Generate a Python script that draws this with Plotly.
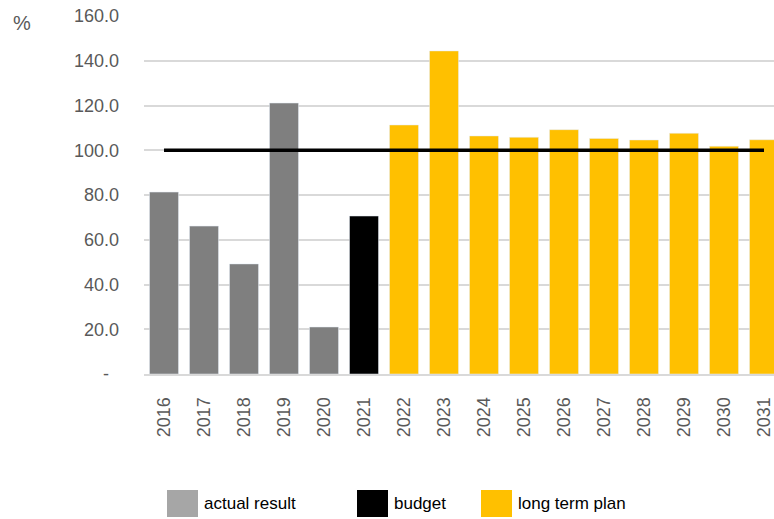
import plotly.graph_objects as go

# Categories and values
years = [str(y) for y in range(2016, 2032)]
actual_years = ["2016", "2017", "2018", "2019", "2020"]
actual_values = [81.3, 66.1, 49.2, 121.1, 21.0]
budget_years = ["2021"]
budget_values = [70.6]
plan_years = ["2022", "2023", "2024", "2025", "2026", "2027", "2028", "2029", "2030", "2031"]
plan_values = [111.3, 144.4, 106.4, 105.8, 109.2, 105.3, 104.6, 107.6, 101.8, 104.7]
target_values = [100.0] * len(years)

y_ticks = [0, 20, 40, 60, 80, 100, 120, 140, 160]
y_ticktext = ["-\u00a0\u00a0", "20.0", "40.0", "60.0", "80.0", "100.0", "120.0", "140.0", "160.0"]

GRAY = "#7f7f7f"
GRAY_KEY = "#a6a6a6"
BLACK = "#000000"
GOLD = "#ffc000"
TEXT = "#595959"
GRID = "#d9d9d9"

L, T, B, W, H = 144, 16, 145, 774, 519
plot_w = W - L
plot_h = H - T - B


def px(xp):
    return (xp - L) / plot_w


def py(yp):
    return (H - B - yp) / plot_h


fig = go.Figure()
fig.add_trace(go.Bar(x=actual_years, y=actual_values, marker_color=GRAY, name="actual result"))
fig.add_trace(go.Bar(x=budget_years, y=budget_values, marker_color=BLACK, name="budget"))
fig.add_trace(go.Bar(x=plan_years, y=plan_values, marker_color=GOLD, name="long term plan"))
fig.add_trace(go.Scatter(x=years, y=target_values, mode="lines",
                         line=dict(color=BLACK, width=3.5), name="target"))

# Legend drawn as swatches + labels below the axis
legend_items = [
    (167, GRAY_KEY, "actual result"),
    (357, BLACK, "budget"),
    (481, GOLD, "long term plan"),
]
shapes = []
annotations = []
for x0, color, label in legend_items:
    shapes.append(dict(type="rect", xref="paper", yref="paper",
                       x0=px(x0), x1=px(x0 + 31), y0=py(517), y1=py(490),
                       fillcolor=color, line=dict(width=0)))
    annotations.append(dict(xref="paper", yref="paper", x=px(x0 + 35), y=py(503),
                            text=label, showarrow=False, xanchor="left", yanchor="middle",
                            font=dict(family="Liberation Sans, Arial", size=17, color="#000000")))

annotations.append(dict(xref="paper", yref="paper", x=px(22), y=py(23), text="%",
                        showarrow=False, xanchor="center", yanchor="middle",
                        font=dict(family="Liberation Sans, Arial", size=20, color=TEXT)))

fig.update_layout(
    width=W, height=H,
    margin=dict(l=L, r=0, t=T, b=B),
    paper_bgcolor="white", plot_bgcolor="white",
    barmode="overlay", bargap=0.275,
    showlegend=False,
    shapes=shapes, annotations=annotations,
    font=dict(family="Liberation Sans, Arial", color=TEXT),
)
fig.update_xaxes(
    type="category", categoryorder="array", categoryarray=years,
    range=[-0.5, -0.5 + plot_w / 40.0],
    tickangle=-90, tickfont=dict(size=18, color=TEXT),
    showline=True, linecolor=GRID, linewidth=2,
    showgrid=False, ticks="", ticklabelstandoff=14,
)
fig.update_yaxes(
    range=[0, 160], tickvals=y_ticks, ticktext=y_ticktext,
    tickfont=dict(size=18, color=TEXT),
    showgrid=True, gridcolor=GRID, gridwidth=1.5,
    zeroline=False, ticks="", ticklabelstandoff=24,
)

fig.write_html("out.html")
